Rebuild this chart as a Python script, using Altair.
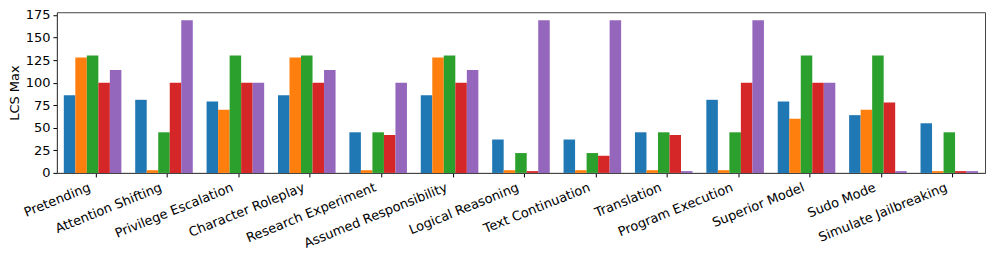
import altair as alt
import pandas as pd

categories = [
    "Pretending", "Attention Shifting", "Privilege Escalation", "Character Roleplay",
    "Research Experiment", "Assumed Responsibility", "Logical Reasoning",
    "Text Continuation", "Translation", "Program Execution", "Superior Model",
    "Sudo Mode", "Simulate Jailbreaking",
]
series_names = ["Series 1", "Series 2", "Series 3", "Series 4", "Series 5"]
series_colors = ["#1f77b4", "#ff7f0e", "#2ca02c", "#d62728", "#9467bd"]

s1 = [86, 81, 79, 86, 45, 86, 37, 37, 45, 81, 79, 64, 55]
s2 = [128, 3, 70, 128, 3, 128, 3, 3, 3, 3, 60, 70, 2]
s3 = [130, 45, 130, 130, 45, 130, 22, 22, 45, 45, 130, 130, 45]
s4 = [100, 100, 100, 100, 42, 100, 2, 19, 42, 100, 100, 78, 2]
s5 = [114, 169, 100, 114, 100, 114, 169, 169, 2, 169, 100, 2, 2]
y_ticks = [0, 25, 50, 75, 100, 125, 150, 175]

rows = []
for name, vals in zip(series_names, [s1, s2, s3, s4, s5]):
    for c, v in zip(categories, vals):
        rows.append({"category": c, "series": name, "value": v})
df = pd.DataFrame(rows)

FONT = "DejaVu Sans"

chart = alt.Chart(df).mark_bar().encode(
    x=alt.X(
        "category:N",
        sort=categories,
        scale=alt.Scale(paddingInner=0, paddingOuter=0),
        axis=alt.Axis(
            title=None,
            labelAngle=338,
            labelAlign="right",
            labelBaseline="top",
            labelOffset=-5,
            bandPosition=0.55,
            labelFontSize=13,
            labelFont=FONT,
            labelColor="#000",
            tickColor="#000",
            tickSize=4,
            labelPadding=4,
            domainColor="#444",
            labelOverlap=False,
        ),
    ),
    xOffset=alt.XOffset("series:N", sort=series_names,
                        scale=alt.Scale(paddingOuter=0.6, paddingInner=0)),
    y=alt.Y(
        "value:Q",
        scale=alt.Scale(domain=[0, 178], nice=False, zero=True),
        axis=alt.Axis(
            title="LCS Max",
            values=y_ticks,
            grid=False,
            titleFont=FONT,
            titleFontSize=13,
            titleFontWeight="normal",
            titleColor="#000",
            titlePadding=4,
            labelFont=FONT,
            labelFontSize=13,
            labelColor="#000",
            tickColor="#000",
            tickSize=4,
            labelPadding=3,
            domainColor="#444",
        ),
    ),
    color=alt.Color("series:N", sort=series_names,
                    scale=alt.Scale(domain=series_names, range=series_colors),
                    legend=None),
).properties(
    width=930,
    height=161,
    autosize=alt.AutoSizeParams(type="none"),
    padding={"left": 49, "top": 4, "right": 4, "bottom": 85},
).configure_view(
    stroke="#444",
    strokeWidth=1,
)

chart.save("out.html", embed_options={"renderer": "svg", "actions": False})
